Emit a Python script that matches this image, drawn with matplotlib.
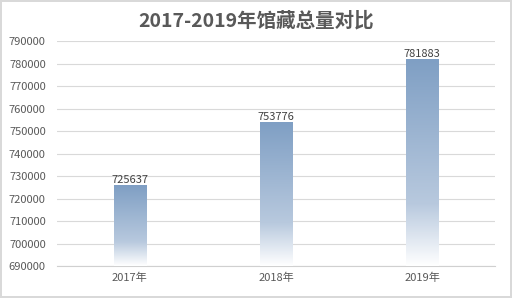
import matplotlib
matplotlib.use("Agg")
import matplotlib.pyplot as plt
import numpy as np
from matplotlib.colors import LinearSegmentedColormap

plt.rcParams['font.family'] = ['Noto Sans CJK SC', 'DejaVu Sans']

# 数据
years = ['2017年', '2018年', '2019年']
totals = [725637, 753776, 781883]
yticks = list(range(690000, 790001, 10000))

fig = plt.figure(figsize=(5.12, 2.98), dpi=100)
fig.patch.set_facecolor('white')
fig.patch.set_edgecolor('#D9D9D9')
fig.patch.set_linewidth(1.5)

ax = fig.add_axes([0.111, 0.107, 0.856, 0.755])
x = np.arange(len(years))
bars = ax.bar(x, totals, width=0.22, color='none', zorder=3)

# 渐变填充
cmap = LinearSegmentedColormap.from_list('grad', [(0, '#FFFFFF'), (0.3, '#B8C9DE'), (1, '#7F9FC4')])
grad = np.linspace(0, 1, 256).reshape(-1, 1)
ymin = yticks[0]
for b in bars:
    x0 = b.get_x()
    x1 = x0 + b.get_width()
    ax.imshow(grad, extent=[x0, x1, ymin, b.get_height()], origin='lower',
              aspect='auto', cmap=cmap, zorder=3)
    ax.text(b.get_x() + b.get_width() / 2, b.get_height() + 300, str(b.get_height()),
            ha='center', va='bottom', fontsize=8, color='#404040', zorder=4)

ax.set_xlim(-0.5, len(years) - 0.5)
ax.set_ylim(yticks[0], yticks[-1])
ax.set_yticks(yticks)
ax.set_yticklabels([str(v) for v in yticks])
ax.set_xticks(x)
ax.set_xticklabels(years)
ax.tick_params(axis='both', length=0, labelsize=8, labelcolor='#595959')
ax.tick_params(axis='y', pad=8)
ax.tick_params(axis='x', pad=5)
ax.grid(axis='y', color='#D9D9D9', linewidth=0.8, zorder=0)
for s in ['top', 'right', 'left']:
    ax.spines[s].set_visible(False)
ax.spines['bottom'].set_color('#D0D0D0')

fig.text(0.5, 0.93, '2017-2019年馆藏总量对比', ha='center', va='center',
         fontsize=14, fontweight='bold', color='#595959')

fig.savefig('out.png', dpi=100)
